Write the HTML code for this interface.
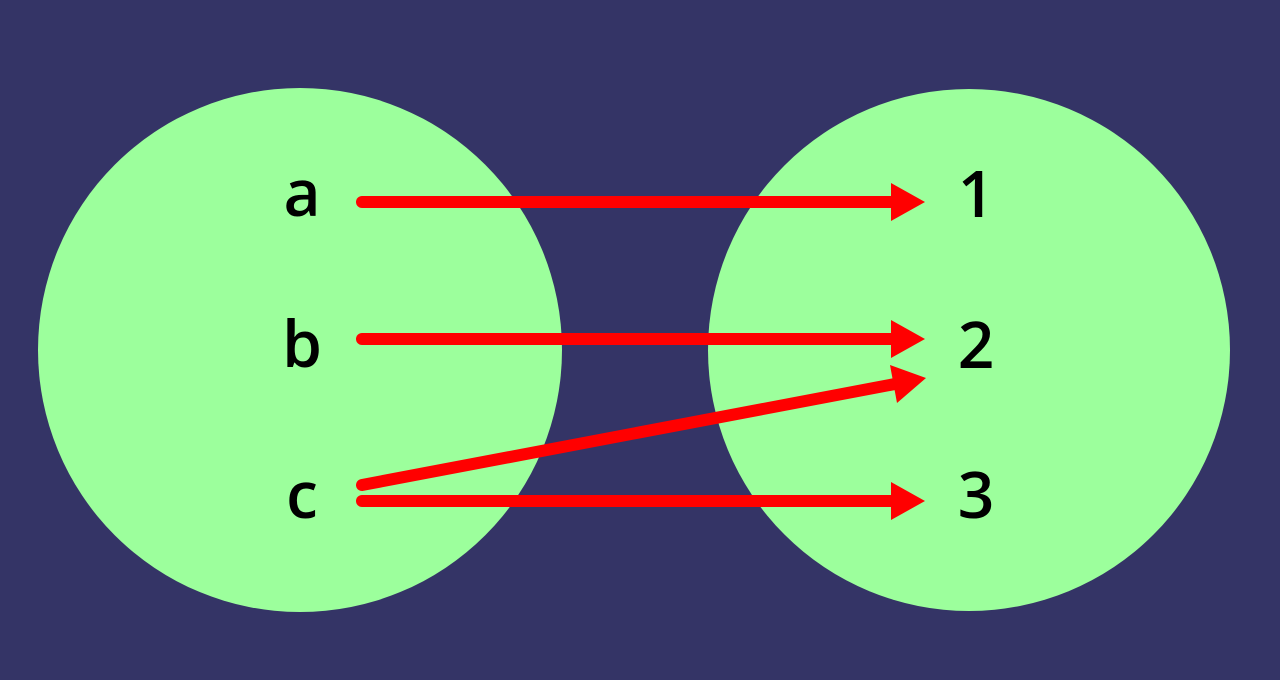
<!DOCTYPE html>
<html><head><style>html,body{margin:0;padding:0;background:#343466;}svg{display:block}</style></head>
<body>
<svg width="1280" height="680" xmlns="http://www.w3.org/2000/svg">
<rect width="1280" height="680" fill="#343466"/>
<circle cx="300" cy="350" r="262" fill="#9cff9c"/>
<circle cx="969" cy="350" r="261" fill="#9cff9c"/>
<g font-family="'Open Sans','DejaVu Sans','Liberation Sans',sans-serif" font-size="64" font-weight="600" fill="#000" text-anchor="middle">
<text x="302" y="216">a</text>
<text x="302" y="367">b</text>
<text x="302" y="518">c</text>
<text x="976" y="217">1</text>
<text x="976" y="368">2</text>
<text x="976" y="518">3</text>
</g>
<g stroke="#ff0000" stroke-width="12" stroke-linecap="round">
<line x1="362" y1="202" x2="893" y2="202"/>
<line x1="362" y1="339" x2="893" y2="339"/>
<line x1="362" y1="501" x2="893" y2="501"/>
<line x1="362" y1="485" x2="895" y2="384"/>
</g>
<g fill="#ff0000">
<polygon points="891,183 925,202 891,221"/>
<polygon points="891,320 925,339 891,358"/>
<polygon points="891,482 925,501 891,520"/>
<polygon points="890,365 926,378 897,403"/>
</g>
</svg>
</body></html>
